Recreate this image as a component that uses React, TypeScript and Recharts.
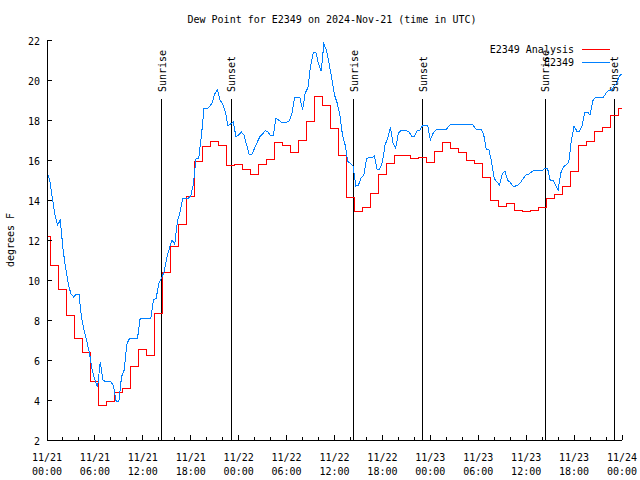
import React from "react";
import { LineChart, Line, XAxis, YAxis, ReferenceLine, Legend } from "recharts";

const FONT = '"DejaVu Sans Mono", "Liberation Mono", monospace';
const RED = "#ff0000";
const BLUE = "#0080ff";

// E2349 Analysis, hourly from 11/21 00:00 UTC
const ANALYSIS_HOURLY = [
  12.17, 10.73, 9.55, 8.25, 7.07, 6.37, 4.95, 3.75, 3.95, 4.37,
  4.6, 5.67, 6.55, 6.25, 8.35, 10.4, 11.67, 12.8, 14.17, 15.95,
  16.67, 16.92, 16.75, 15.75, 15.8, 15.55, 15.3, 15.8, 16.05, 16.88,
  16.75, 16.38, 16.97, 17.93, 19.17, 18.72, 17.6, 16.25, 14.13, 13.45,
  13.63, 14.33, 15.3, 15.83, 16.25, 16.25, 16.08, 16.13, 15.88, 16.42,
  16.88, 16.58, 16.37, 15.97, 15.83, 15.13, 14.0, 13.7, 13.83, 13.5,
  13.45, 13.47, 13.63, 14.08, 14.3, 14.67, 15.45, 16.75, 16.92, 17.45,
  17.63, 18.25, 18.58,
];

// E2349 observations, every 20 minutes from 11/21 00:00 UTC
const OBS_20MIN = [
  15.4, 15.0, 14.1, 13.25, 12.75, 13.0, 11.55, 10.6, 9.8, 9.3,
  9.15, 9.3, 9.3, 8.1, 7.45, 6.9, 6.3, 5.5, 5.0, 4.65,
  5.9, 5.0, 4.92, 4.92, 4.92, 4.7, 3.92, 3.92, 5.17, 5.5,
  6.8, 7.08, 7.08, 7.08, 7.08, 8.08, 8.08, 8.08, 8.08, 8.08,
  9.0, 9.08, 9.83, 10.1, 10.4, 11.1, 11.6, 12.0, 11.8, 12.95,
  13.4, 14.08, 14.08, 14.08, 14.2, 14.8, 16.1, 16.1, 17.2, 18.6,
  18.55, 18.67, 18.85, 19.3, 19.5, 19.0, 18.8, 18.4, 17.7, 17.8,
  17.9, 17.15, 17.25, 17.4, 17.25, 16.75, 16.25, 16.3, 16.6, 16.9,
  17.17, 17.3, 17.47, 17.4, 17.22, 17.22, 18.1, 18.0, 17.88, 17.88,
  17.88, 17.95, 18.3, 19.13, 19.13, 19.13, 18.5, 19.35, 19.6, 20.7,
  21.35, 21.38, 20.8, 20.45, 21.8, 21.5, 20.8, 20.05, 19.25, 18.85,
  18.25, 17.25, 16.75, 15.92, 15.83, 15.7, 14.7, 14.75, 15.1, 15.25,
  16.05, 16.13, 16.1, 16.2, 15.55, 15.55, 15.9, 16.75, 17.1, 17.65,
  16.85, 16.6, 17.35, 17.47, 17.47, 17.47, 17.4, 17.2, 17.2, 17.45,
  17.47, 17.7, 17.75, 17.75, 17.0, 17.33, 17.5, 17.53, 17.53, 17.53,
  17.53, 17.7, 17.8, 17.8, 17.8, 17.8, 17.8, 17.8, 17.8, 17.8,
  17.75, 17.55, 17.53, 17.53, 17.3, 16.53, 16.53, 15.9, 15.08, 14.9,
  14.75, 15.3, 15.45, 15.0, 14.88, 14.7, 14.7, 14.75, 14.9, 15.1,
  15.25, 15.3, 15.4, 15.47, 15.47, 15.47, 15.47, 15.6, 15.6, 15.0,
  15.0, 14.75, 14.5, 15.35, 15.67, 15.75, 15.9, 17.0, 17.7, 17.45,
  17.45, 17.7, 18.4, 18.4, 18.25, 18.95, 19.13, 19.13, 19.13, 19.13,
  19.35, 19.47, 19.47, 19.7, 19.85, 20.2, 20.3,
];

const MAJOR_TICKS = [0, 6, 12, 18, 24, 30, 36, 42, 48, 54, 60, 66, 72];
const MINOR_TICKS = [
  0, 2, 4, 6, 8, 10, 12, 14, 16, 18, 20, 22, 24, 26, 28, 30, 32, 34, 36,
  38, 40, 42, 44, 46, 48, 50, 52, 54, 56, 58, 60, 62, 64, 66, 68, 70, 72,
];
const TICK_DAYS = [
  "11/21", "11/21", "11/21", "11/21", "11/22", "11/22", "11/22",
  "11/22", "11/23", "11/23", "11/23", "11/23", "11/24",
];
const TICK_TIMES = [
  "00:00", "06:00", "12:00", "18:00", "00:00", "06:00", "12:00",
  "18:00", "00:00", "06:00", "12:00", "18:00", "00:00",
];
const Y_TICKS = [2, 4, 6, 8, 10, 12, 14, 16, 18, 20, 22];

// hours after 11/21 00:00 UTC
const SUNRISE_HOURS = [14.36, 38.38, 62.4];
const SUNSET_HOURS = [23.05, 47.04, 71.04];
const SUN_LINE_TOP = 19.05;

const SERIES = [
  { name: "E2349 Analysis", color: RED },
  { name: "E2349", color: BLUE },
];

const analysisData = ANALYSIS_HOURLY.map((v, i) => ({ t: i, v }));
const obsData = OBS_20MIN.map((v, i) => ({ t: i / 3, v }));

function BottomTick({ x, y, payload }: any) {
  const i = MAJOR_TICKS.indexOf(payload.value);
  return (
    <g>
      <line x1={x} y1={y} x2={x} y2={y - (i >= 0 ? 5 : 3)} stroke="#000" />
      {i >= 0 && (
        <text textAnchor="middle" fontFamily={FONT} fontSize={10} fill="#000">
          <tspan x={x} y={y + 21}>{TICK_DAYS[i]}</tspan>
          <tspan x={x} y={y + 35}>{TICK_TIMES[i]}</tspan>
        </text>
      )}
    </g>
  );
}

function TopTick({ x, y, payload }: any) {
  const major = MAJOR_TICKS.includes(payload.value);
  return <line x1={x} y1={y} x2={x} y2={y + (major ? 5 : 3)} stroke="#000" />;
}

function LeftTick({ x, y, payload }: any) {
  return (
    <g>
      <line x1={x} y1={y} x2={x + 5} y2={y} stroke="#000" />
      <text x={x - 7} y={y + 5} textAnchor="end" fontFamily={FONT} fontSize={10} fill="#000">
        {payload.value}
      </text>
    </g>
  );
}

function RightTick({ x, y }: any) {
  return <line x1={x} y1={y} x2={x - 5} y2={y} stroke="#000" />;
}

const sunLabel = (text: string) => (props: any) => {
  const vb = props.viewBox || {};
  const x = (vb.x ?? vb.x1) + 4;
  const y = (vb.y ?? Math.min(vb.y1, vb.y2)) - 7;
  return (
    <text x={x} y={y} transform={`rotate(-90 ${x} ${y})`} fontFamily={FONT} fontSize={10} fill="#000">
      {text}
    </text>
  );
};

const yLabel = (props: any) => {
  const vb = props.viewBox || { x: 0, y: 40, height: 400 };
  const x = vb.x + 10;
  const y = vb.y + vb.height / 2;
  return (
    <text x={x} y={y} transform={`rotate(-90 ${x} ${y})`} textAnchor="middle" dominantBaseline="central"
      fontFamily={FONT} fontSize={10} fill="#000">
      degrees F
    </text>
  );
};

const renderLegend = () => (
  <div style={{ fontFamily: FONT, fontSize: 10, lineHeight: "13px", color: "#000" }}>
    {SERIES.map((s) => (
      <div key={s.name} style={{ display: "flex", justifyContent: "flex-end", alignItems: "center", height: 13 }}>
        <span>{s.name}</span>
        <span style={{ display: "inline-block", width: 28, height: 1, background: s.color, marginLeft: 8 }} />
      </div>
    ))}
  </div>
);

export default function App() {
  return (
    <div style={{ position: "absolute", left: 0, top: 0, width: 640, height: 480, background: "#fff" }}>
      <div
        style={{
          position: "absolute", left: 12, top: 14, width: 640, textAlign: "center",
          fontFamily: FONT, fontSize: 10, lineHeight: "12px", color: "#000",
        }}
      >
        Dew Point for E2349 on 2024-Nov-21 (time in UTC)
      </div>
      <LineChart
        width={640}
        height={480}
        margin={{ top: 40, right: 18, bottom: 0, left: 0 }}
        style={{ shapeRendering: "crispEdges" }}
      >
        <XAxis
          dataKey="t"
          type="number"
          domain={[0, 72]}
          allowDataOverflow
          ticks={MINOR_TICKS}
          interval={0}
          tick={<BottomTick />}
          tickLine={false}
          tickSize={0}
          tickMargin={0}
          height={40}
          axisLine={{ stroke: "#000" }}
        />
        <XAxis
          xAxisId="top"
          orientation="top"
          dataKey="t"
          type="number"
          domain={[0, 72]}
          allowDataOverflow
          ticks={MINOR_TICKS}
          interval={0}
          tick={<TopTick />}
          tickLine={false}
          tickSize={0}
          tickMargin={0}
          height={0}
          axisLine={{ stroke: "#000" }}
        />
        <YAxis
          type="number"
          domain={[2, 22]}
          allowDataOverflow
          ticks={Y_TICKS}
          interval={0}
          tick={<LeftTick />}
          tickLine={false}
          tickSize={0}
          tickMargin={0}
          width={47}
          axisLine={{ stroke: "#000" }}
          label={yLabel}
        />
        <YAxis
          yAxisId="right"
          orientation="right"
          type="number"
          domain={[2, 22]}
          allowDataOverflow
          ticks={Y_TICKS}
          interval={0}
          tick={<RightTick />}
          tickLine={false}
          tickSize={0}
          tickMargin={0}
          width={0}
          axisLine={{ stroke: "#000" }}
        />
        {SUNRISE_HOURS.map((h) => (
          <ReferenceLine
            key={"sr" + h}
            segment={[{ x: h, y: 2 }, { x: h, y: SUN_LINE_TOP }]}
            stroke="#000"
            label={sunLabel("Sunrise")}
          />
        ))}
        {SUNSET_HOURS.map((h) => (
          <ReferenceLine
            key={"ss" + h}
            segment={[{ x: h, y: 2 }, { x: h, y: SUN_LINE_TOP }]}
            stroke="#000"
            label={sunLabel("Sunset")}
          />
        ))}
        <Line
          data={analysisData}
          dataKey="v"
          name="E2349 Analysis"
          type="step"
          stroke={RED}
          strokeWidth={1}
          dot={false}
          isAnimationActive={false}
        />
        <Line
          data={obsData}
          dataKey="v"
          name="E2349"
          type="linear"
          stroke={BLUE}
          strokeWidth={1}
          dot={false}
          isAnimationActive={false}
        />
        <Legend
          layout="vertical"
          align="center"
          verticalAlign="middle"
          wrapperStyle={{ top: 43, left: 0, right: "auto", bottom: "auto", width: 610, height: 26 }}
          content={renderLegend}
        />
      </LineChart>
    </div>
  );
}
